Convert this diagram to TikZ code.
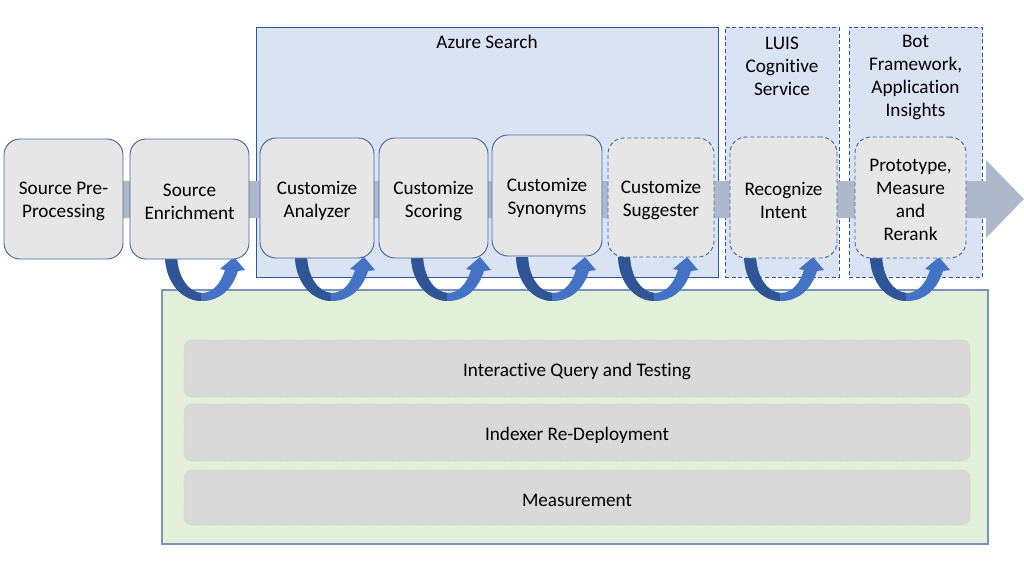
\documentclass[tikz,border=0pt]{standalone}
\usepackage{fontspec}
\setmainfont{Carlito}[Ligatures=NoCommon]
\usetikzlibrary{fit}
\definecolor{contfill}{HTML}{DAE3F3}
\definecolor{contdraw}{HTML}{2F5597}
\definecolor{greenfill}{HTML}{E2F0D9}
\definecolor{greendraw}{HTML}{7A93BE}
\definecolor{barfill}{HTML}{D9D9D9}
\definecolor{bardraw}{HTML}{C4C4C4}
\definecolor{bandfill}{HTML}{ADB9CA}
\definecolor{boxfill}{HTML}{E7E6E6}
\definecolor{boxdraw}{HTML}{41679F}
\definecolor{loopdark}{HTML}{2F5597}
\definecolor{looplight}{HTML}{4472C4}
\tikzset{
  txt/.style={font=\fontsize{14.4}{17.25}\selectfont, text=black, align=center},
  btxt/.style={txt, yshift=-2pt},
  cont/.style={draw=contdraw, fill=contfill, line width=0.7pt, inner sep=0pt},
  dcont/.style={cont, dash pattern=on 3pt off 2pt},
  greenbox/.style={draw=greendraw, fill=greenfill, line width=0.8pt, inner sep=0pt},
  barbox/.style={txt, fill=barfill, draw=bardraw, densely dotted, line width=0.4pt, rounded corners=6pt, inner sep=0pt},
  stepbox/.style={txt, fill=boxfill, draw=boxdraw, line width=0.7pt, rounded corners=12pt, inner sep=0pt},
  dstepbox/.style={stepbox, dash pattern=on 3pt off 2pt},
}
\newcommand\looppath{(0,0) -- (12,0) .. controls (13,22) and (25,36) .. (37,36) .. controls (48,36) and (56,26) .. (60,13) -- (55,12) -- (69,0) -- (80,13) -- (73,14) .. controls (67,33) and (54,44) .. (37,44) .. controls (17,44) and (1,26) .. (0,0) -- cycle}
\newcommand\uloop[2]{%
  \begin{scope}[shift={(#1,257)}]
    \coordinate (#2) at (37,44);
    \fill[looplight] \looppath;
    \begin{scope}
      \clip \looppath;
      \fill[loopdark] (-2,-2) rectangle (36,50);
    \end{scope}
  \end{scope}}
\begin{document}
\begin{tikzpicture}[x=0.75pt, y=-0.75pt]
\useasboundingbox (0,0) rectangle (1024,564);
% containers
\node[cont, fit={(256,27) (718,277)}] (azure) {};
\node[dcont, fit={(725,27) (839,277)}] (luis) {};
\node[dcont, fit={(849,27) (982,277)}] (bot) {};
\node[txt] (azuret) at (487,42) {Azure Search};
\node[txt] (luist) at (782,66) {LUIS\\Cognitive\\Service};
\node[txt] (bott) at (915.5,77.5) {Bot\\Framework,\\Application\\Insights};
% green area
\node[greenbox, fit={(162,290) (988,544)}] (green) {};
\node[barbox, fit={(184,340) (970,397)}] (b1) {};
\node[btxt] at (b1.center) {Interactive Query and Testing};
\node[barbox, fit={(184,404) (970,461)}] (b2) {};
\node[btxt] at (b2.center) {Indexer Re-Deployment};
\node[barbox, fit={(184,470) (970,525)}] (b3) {};
\node[btxt] at (b3.center) {Measurement};
% main band arrow
\fill[bandfill] (118,181) -- (986,181) -- (986,160) -- (1024,199) -- (986,238) -- (986,218) -- (118,218) -- cycle;
% loops
\uloop{165}{l1}
\uloop{295}{l2}
\uloop{411}{l3}
\uloop{516}{l4}
\uloop{618}{l5}
\uloop{744}{l6}
\uloop{870}{l7}
% process boxes
\node[stepbox, fit={(4,139) (123,259)}] (pre) {};
\node[btxt] at (pre.center) {Source Pre-\\Processing};
\node[stepbox, fit={(130,139) (249,259)}] (enr) {};
\node[btxt] at (enr.center) {Source\\Enrichment};
\node[stepbox, fit={(260,138) (374,258)}] (ana) {};
\node[btxt] at (ana.center) {Customize\\Analyzer};
\node[stepbox, fit={(379,138) (488,258)}] (sco) {};
\node[btxt] at (sco.center) {Customize\\Scoring};
\node[stepbox, fit={(492,135) (602,256)}] (syn) {};
\node[btxt] at (syn.center) {Customize\\Synonyms};
\node[dstepbox, fit={(608,138) (714,257)}] (sug) {};
\node[btxt] at (sug.center) {Customize\\Suggester};
\node[dstepbox, fit={(730,137) (837,258)}] (rec) {};
\node[btxt] at (rec.center) {Recognize\\Intent};
\node[dstepbox, fit={(855,137) (966,258)}] (pro) {};
\node[btxt] at (pro.center) {Prototype,\\Measure\\and\\Rerank};
\end{tikzpicture}
\end{document}
